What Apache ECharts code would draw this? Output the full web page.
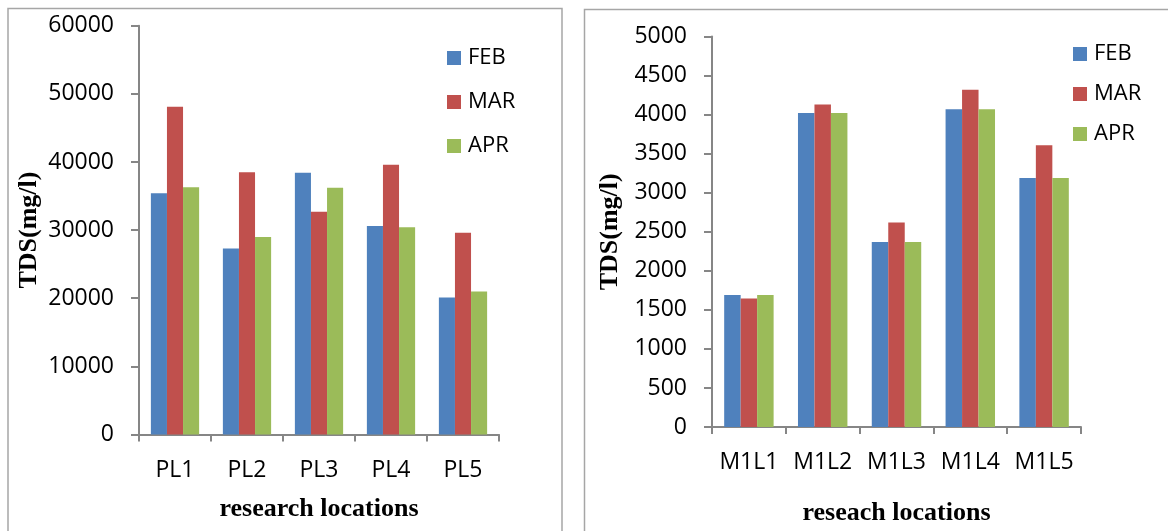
<!DOCTYPE html>
<html>
<head>
<meta charset="utf-8">
<script src="https://cdn.jsdelivr.net/npm/echarts@6/dist/echarts.min.js"></script>
<style>
html,body{margin:0;padding:0;background:#fff;}
#chart{width:1168px;height:531px;}
</style>
</head>
<body>
<div id="chart"></div>
<script>
// Left chart data
const leftCategories = ['PL1', 'PL2', 'PL3', 'PL4', 'PL5'];
const leftFeb = [35400, 27300, 38400, 30600, 20100];
const leftMar = [48100, 38500, 32700, 39600, 29600];
const leftApr = [36300, 29000, 36200, 30400, 21000];

// Right chart data
const rightCategories = ['M1L1', 'M1L2', 'M1L3', 'M1L4', 'M1L5'];
const rightFeb = [1690, 4020, 2370, 4070, 3190];
const rightMar = [1645, 4130, 2620, 4320, 3610];
const rightApr = [1690, 4020, 2370, 4070, 3190];

const seriesNames = ['FEB', 'MAR', 'APR'];
const colors = ['#4F81BD', '#C0504D', '#9BBB59'];

const axisColor = '#868686';
const sans = '"Open Sans", sans-serif';
const serif = '"Liberation Serif", "Times New Roman", serif';

function xAxisFor(gridIndex, cats, gap) {
  return {
    type: 'category', gridIndex, data: cats,
    boundaryGap: true,
    axisLine: { show: true, lineStyle: { color: axisColor, width: 2 } },
    axisTick: { show: true, length: 7, interval: 0, lineStyle: { color: axisColor, width: 2 } },
    axisLabel: { color: '#000', fontFamily: sans, fontSize: 23, margin: 24, interval: 0, hideOverlap: false },
    name: gridIndex === 0 ? 'research locations' : 'reseach locations',
    nameLocation: 'middle', nameGap: gap,
    nameTextStyle: { color: '#000', fontFamily: serif, fontWeight: 'bold', fontSize: 26 },
    splitLine: { show: false }
  };
}
function yAxisFor(gridIndex, max, interval, gap) {
  return {
    type: 'value', gridIndex, min: 0, max, interval,
    axisLine: { show: true, lineStyle: { color: axisColor, width: 2 } },
    axisTick: { show: true, length: 8, lineStyle: { color: axisColor, width: 2 } },
    axisLabel: { color: '#000', fontFamily: sans, fontSize: 23, margin: 25, formatter: (v) => String(v) },
    splitLine: { show: false },
    name: 'TDS(mg/l)', nameLocation: 'middle', nameGap: gap,
    nameTextStyle: { color: '#000', fontFamily: serif, fontWeight: 'bold', fontSize: 26 }
  };
}
function barSeries(name, data, idx, axisIndex) {
  return {
    name, type: 'bar', data,
    xAxisIndex: axisIndex, yAxisIndex: axisIndex,
    barGap: '0%', barCategoryGap: '33%',
    itemStyle: { color: colors[idx] },
    emphasis: { disabled: true },
    animation: false
  };
}
function legendFor(left, top, gap) {
  return {
    data: seriesNames, orient: 'vertical', left, top, padding: 0,
    itemWidth: 14, itemHeight: 14, itemGap: gap, icon: 'rect',
    textStyle: { color: '#000', fontFamily: sans, fontSize: 22, padding: [0, 0, 0, 2] }
  };
}

const chart = echarts.init(document.getElementById('chart'), null, { renderer: 'canvas' });
chart.setOption({
  animation: false,
  color: colors,
  graphic: [
    { type: 'rect', shape: { x: 8, y: 8.5, width: 554, height: 600 }, style: { fill: 'none', stroke: '#A6A6A6', lineWidth: 1.5 }, silent: true },
    { type: 'rect', shape: { x: 584.5, y: 9.5, width: 620, height: 600 }, style: { fill: 'none', stroke: '#A6A6A6', lineWidth: 1.5 }, silent: true }
  ],
  legend: [legendFor(447, 47, 22), legendFor(1073, 43, 18)],
  grid: [
    { left: 139, top: 25.7, width: 360, height: 408.8 },
    { left: 712, top: 36.6, width: 369, height: 391.1 }
  ],
  xAxis: [xAxisFor(0, leftCategories, 62), xAxisFor(1, rightCategories, 73)],
  yAxis: [yAxisFor(0, 60000, 10000, 97), yAxisFor(1, 5000, 500, 89)],
  series: [
    barSeries('FEB', leftFeb, 0, 0),
    barSeries('MAR', leftMar, 1, 0),
    barSeries('APR', leftApr, 2, 0),
    barSeries('FEB', rightFeb, 0, 1),
    barSeries('MAR', rightMar, 1, 1),
    barSeries('APR', rightApr, 2, 1)
  ]
});
</script>
</body>
</html>
